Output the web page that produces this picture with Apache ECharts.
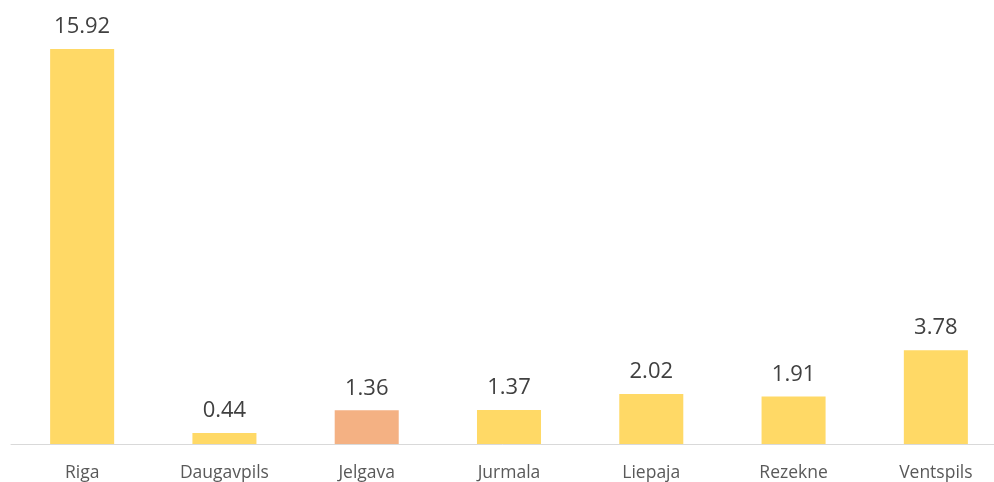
<!DOCTYPE html>
<html>
<head>
<meta charset="utf-8">
<script src="https://cdn.jsdelivr.net/npm/echarts@6/dist/echarts.min.js"></script>
<style>
  html, body { margin: 0; padding: 0; background: #fff; }
  #chart { width: 994px; height: 482px; }
</style>
</head>
<body>
<div id="chart"></div>
<script>
const cities = ["Riga", "Daugavpils", "Jelgava", "Jurmala", "Liepaja", "Rezekne", "Ventspils"];
const values = [15.92, 0.44, 1.36, 1.37, 2.02, 1.91, 3.78];
const highlighted = ["Jelgava"];

const chart = echarts.init(document.getElementById("chart"));

const option = {
  animation: false,
  // plot runs past the right edge, like the cropped original
  grid: { left: 11, width: 996, top: 47, bottom: 38, outerBoundsMode: "none", containLabel: false },
  xAxis: {
    type: "category",
    data: cities,
    axisLine: { lineStyle: { color: "#d9d9d9", width: 1 } },
    axisTick: { show: false },
    axisLabel: {
      color: "#595959",
      fontSize: 17.5,
      fontFamily: "Open Sans",
      margin: 20
    }
  },
  yAxis: {
    type: "value",
    min: 0,
    max: 16,
    show: false,
    splitLine: { show: false }
  },
  series: [
    {
      type: "bar",
      barWidth: "45%",
      data: values.map((v, i) => ({
        value: v,
        itemStyle: { color: highlighted.includes(cities[i]) ? "#F4B183" : "#FFD966" }
      })),
      label: {
        show: true,
        position: "top",
        distance: 11,
        color: "#404040",
        fontSize: 22,
        fontFamily: "Open Sans",
        formatter: (p) => p.value.toFixed(2)
      }
    }
  ]
};

chart.setOption(option);
</script>
</body>
</html>
